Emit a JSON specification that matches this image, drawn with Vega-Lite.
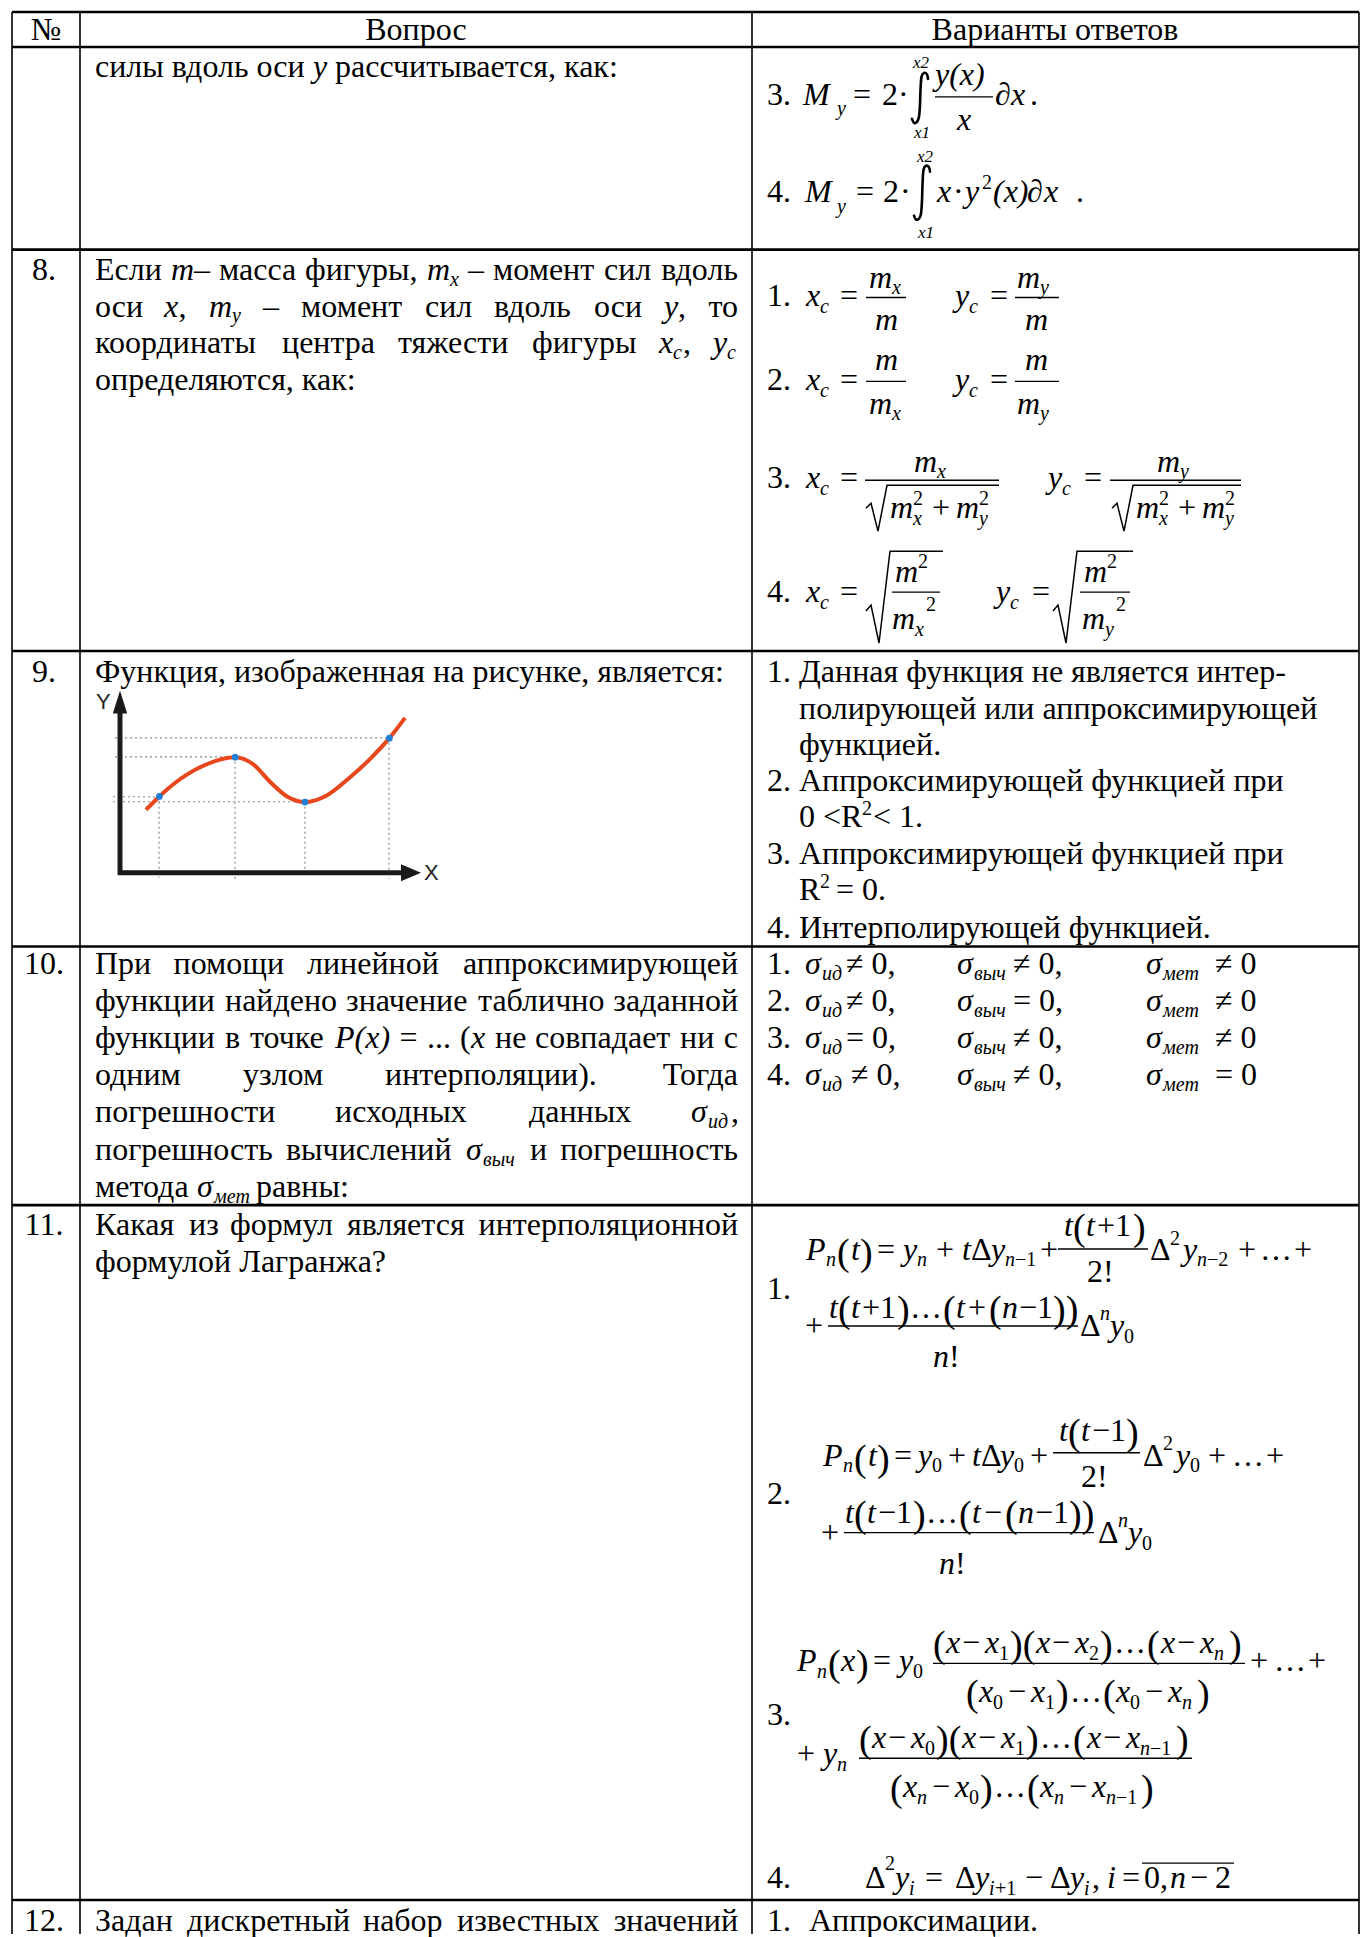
{
"$schema": "https://vega.github.io/schema/vega-lite/v6.json",
"width": 1363, "height": 1937, "padding": 0,
"autosize": {"type": "fit", "contains": "padding"},
"background": "white",
"config": {"view": {"stroke": null}},
"datasets": {
"L": [
{"x":12,"y":12,"x2":1359,"y2":12,"g":"h"},
{"x":12,"y":47,"x2":1359,"y2":47,"g":"h"},
{"x":12,"y":250,"x2":1359,"y2":250,"g":"h"},
{"x":12,"y":652,"x2":1359,"y2":652,"g":"h"},
{"x":12,"y":948,"x2":1359,"y2":948,"g":"h"},
{"x":12,"y":1207,"x2":1359,"y2":1207,"g":"h"},
{"x":12,"y":1903,"x2":1359,"y2":1903,"g":"h"},
{"x":12,"y":12,"x2":12,"y2":1937,"g":"v"},
{"x":80,"y":12,"x2":80,"y2":1937,"g":"v"},
{"x":752,"y":12,"x2":752,"y2":1937,"g":"v"},
{"x":1359,"y":12,"x2":1359,"y2":1937,"g":"v"},
{"x":935,"y":97,"x2":993,"y2":97,"g":"bar"},
{"x":866,"y":298,"x2":906,"y2":298,"g":"bar"},
{"x":1015,"y":298,"x2":1059,"y2":298,"g":"bar"},
{"x":866,"y":382,"x2":906,"y2":382,"g":"bar"},
{"x":1015,"y":382,"x2":1059,"y2":382,"g":"bar"},
{"x":865,"y":481,"x2":999,"y2":481,"g":"bar"},
{"x":1110,"y":481,"x2":1241,"y2":481,"g":"bar"},
{"x":892,"y":593,"x2":940,"y2":593,"g":"bar"},
{"x":1080,"y":593,"x2":1130,"y2":593,"g":"bar"},
{"x":1058,"y":1251,"x2":1148,"y2":1251,"g":"bar"},
{"x":828,"y":1328,"x2":1078,"y2":1328,"g":"bar"},
{"x":1053,"y":1455,"x2":1140,"y2":1455,"g":"bar"},
{"x":844,"y":1535,"x2":1094,"y2":1535,"g":"bar"},
{"x":933,"y":1666,"x2":1245,"y2":1666,"g":"bar"},
{"x":859,"y":1761,"x2":1192,"y2":1761,"g":"bar"},
{"x":1142,"y":1866,"x2":1234,"y2":1866,"g":"bar"},
{"x":115,"y":739,"x2":389,"y2":739,"g":"dot"},
{"x":115,"y":758,"x2":235,"y2":758,"g":"dot"},
{"x":113,"y":798,"x2":159,"y2":798,"g":"dot"},
{"x":113,"y":803,"x2":305,"y2":803,"g":"dot"},
{"x":159,"y":798,"x2":159,"y2":879,"g":"dot"},
{"x":235,"y":758,"x2":235,"y2":881,"g":"dot"},
{"x":305,"y":803,"x2":305,"y2":877,"g":"dot"},
{"x":389,"y":739,"x2":389,"y2":880,"g":"dot"},
{"x":120,"y":711,"x2":120,"y2":876,"g":"axis"},
{"x":118,"y":874,"x2":404,"y2":874,"g":"axis"}
],
"P": [
{"id":"A","o":1,"x":866,"y":509},{"id":"A","o":2,"x":871,"y":504},{"id":"A","o":3,"x":878,"y":532},{"id":"A","o":4,"x":887,"y":486},{"id":"A","o":5,"x":999,"y":486},
{"id":"B","o":1,"x":1112,"y":509},{"id":"B","o":2,"x":1117,"y":504},{"id":"B","o":3,"x":1124,"y":532},{"id":"B","o":4,"x":1133,"y":486},{"id":"B","o":5,"x":1241,"y":486},
{"id":"C","o":1,"x":866,"y":612},{"id":"C","o":2,"x":871,"y":606},{"id":"C","o":3,"x":879,"y":644},{"id":"C","o":4,"x":890,"y":552},{"id":"C","o":5,"x":943,"y":552},
{"id":"D","o":1,"x":1053,"y":612},{"id":"D","o":2,"x":1058,"y":606},{"id":"D","o":3,"x":1066,"y":644},{"id":"D","o":4,"x":1077,"y":552},{"id":"D","o":5,"x":1133,"y":552}
],
"G": [
{"id":"I3","o":1,"x":928,"y":79},{"id":"I3","o":2,"x":927,"y":74.5},{"id":"I3","o":3,"x":924,"y":73},{"id":"I3","o":4,"x":921.5,"y":77},{"id":"I3","o":5,"x":920.5,"y":90},{"id":"I3","o":6,"x":920,"y":105},{"id":"I3","o":7,"x":919,"y":117},{"id":"I3","o":8,"x":917,"y":122},{"id":"I3","o":9,"x":914,"y":123},{"id":"I3","o":10,"x":912,"y":119},
{"id":"I4","o":1,"x":930,"y":172},{"id":"I4","o":2,"x":929,"y":167.5},{"id":"I4","o":3,"x":926,"y":166},{"id":"I4","o":4,"x":923.5,"y":170},{"id":"I4","o":5,"x":922.5,"y":185},{"id":"I4","o":6,"x":922,"y":201},{"id":"I4","o":7,"x":921,"y":214},{"id":"I4","o":8,"x":919,"y":219},{"id":"I4","o":9,"x":916,"y":220},{"id":"I4","o":10,"x":914,"y":216}
],
"C": [
{"x":146,"y":811},{"x":159.4,"y":797.7},{"x":174,"y":785},{"x":200,"y":768.5},{"x":235.2,"y":758.3},{"x":252.6,"y":765},{"x":270,"y":783},{"x":287.5,"y":798},{"x":304.9,"y":803.3},{"x":326.7,"y":796.7},{"x":348.4,"y":780},{"x":370.2,"y":760},{"x":389.4,"y":739.3},{"x":405,"y":719}
],
"D": [
{"x":159.4,"y":797.7,"g":"pt"},{"x":235.2,"y":758.3,"g":"pt"},{"x":304.9,"y":803.3,"g":"pt"},{"x":389.4,"y":739.3,"g":"pt"},
{"x":120,"y":703,"g":"up"},{"x":411,"y":874,"g":"rt"}
],
"T": [
{"t":"№","x":46,"y":40,"m":"c","z":"n"},
{"t":"Вопрос","x":416,"y":40,"m":"c","z":"n"},
{"t":"Варианты ответов","x":1055,"y":40,"m":"c","z":"n"},
{"t":"силы вдоль оси","x":95,"y":77,"m":"r","z":"n"},
{"t":"y","x":313,"y":77,"m":"i","z":"n"},
{"t":"рассчитывается, как:","x":335,"y":77,"m":"r","z":"n"},
{"t":"3.","x":767,"y":105,"m":"r","z":"n"},
{"t":"M","x":803,"y":105,"m":"i","z":"n"},
{"t":"y","x":837,"y":115,"m":"i","z":"b"},
{"t":"=","x":853,"y":105,"m":"r","z":"n"},
{"t":"2","x":882,"y":105,"m":"r","z":"n"},
{"t":"·","x":898,"y":105,"m":"r","z":"n"},
{"t":"x2","x":913,"y":68,"m":"i","z":"l"},
{"t":"x1","x":914,"y":138,"m":"i","z":"l"},
{"t":"y(x)","x":935,"y":85,"m":"i","z":"n"},
{"t":"x","x":957,"y":130,"m":"i","z":"n"},
{"t":"∂","x":995,"y":105,"m":"r","z":"n"},
{"t":"x","x":1011,"y":105,"m":"i","z":"n"},
{"t":".","x":1030,"y":105,"m":"r","z":"n"},
{"t":"4.","x":767,"y":202,"m":"r","z":"n"},
{"t":"M","x":805,"y":202,"m":"i","z":"n"},
{"t":"y","x":837,"y":213,"m":"i","z":"b"},
{"t":"=","x":856,"y":202,"m":"r","z":"n"},
{"t":"2","x":883,"y":202,"m":"r","z":"n"},
{"t":"·","x":900,"y":202,"m":"r","z":"n"},
{"t":"x2","x":917,"y":162,"m":"i","z":"l"},
{"t":"x1","x":918,"y":238,"m":"i","z":"l"},
{"t":"x","x":937,"y":202,"m":"i","z":"n"},
{"t":"·","x":953,"y":202,"m":"r","z":"n"},
{"t":"y","x":965,"y":202,"m":"i","z":"n"},
{"t":"2","x":982,"y":189,"m":"r","z":"b"},
{"t":"(x)","x":993,"y":202,"m":"i","z":"n"},
{"t":"∂","x":1027,"y":202,"m":"r","z":"n"},
{"t":"x","x":1044,"y":202,"m":"i","z":"n"},
{"t":".","x":1076,"y":202,"m":"r","z":"n"},

{"t":"8.","x":44,"y":280,"m":"c","z":"n"},
{"t":"Если","x":95,"y":280,"m":"r","z":"n"},
{"t":"m","x":171,"y":280,"m":"i","z":"n"},
{"t":"–","x":194,"y":280,"m":"r","z":"n"},
{"t":"масса","x":219,"y":280,"m":"r","z":"n"},
{"t":"фигуры,","x":305,"y":280,"m":"r","z":"n"},
{"t":"m","x":427,"y":280,"m":"i","z":"n"},
{"t":"x","x":450,"y":286,"m":"i","z":"b"},
{"t":"–","x":468,"y":280,"m":"r","z":"n"},
{"t":"момент","x":493,"y":280,"m":"r","z":"n"},
{"t":"сил","x":604,"y":280,"m":"r","z":"n"},
{"t":"вдоль","x":738,"y":280,"m":"rr","z":"n"},
{"t":"оси","x":95,"y":317,"m":"r","z":"n"},
{"t":"x","x":164,"y":317,"m":"i","z":"n"},
{"t":",","x":178.6,"y":317,"m":"r","z":"n"},
{"t":"m","x":209,"y":317,"m":"i","z":"n"},
{"t":"y","x":232,"y":323,"m":"i","z":"b"},
{"t":"–","x":263,"y":317,"m":"r","z":"n"},
{"t":"момент","x":301,"y":317,"m":"r","z":"n"},
{"t":"сил","x":425,"y":317,"m":"r","z":"n"},
{"t":"вдоль","x":494,"y":317,"m":"r","z":"n"},
{"t":"оси","x":594,"y":317,"m":"r","z":"n"},
{"t":"y","x":664,"y":317,"m":"i","z":"n"},
{"t":",","x":678,"y":317,"m":"r","z":"n"},
{"t":"то","x":738,"y":317,"m":"rr","z":"n"},
{"t":"координаты","x":95,"y":354,"m":"r","z":"n"},
{"t":"центра","x":282,"y":354,"m":"r","z":"n"},
{"t":"тяжести","x":398,"y":354,"m":"r","z":"n"},
{"t":"фигуры","x":532,"y":354,"m":"r","z":"n"},
{"t":"x","x":659,"y":354,"m":"i","z":"n"},
{"t":"c","x":673,"y":360,"m":"i","z":"b"},
{"t":",","x":683,"y":354,"m":"r","z":"n"},
{"t":"y","x":713,"y":354,"m":"i","z":"n"},
{"t":"c","x":727,"y":360,"m":"i","z":"b"},
{"t":"определяются, как:","x":95,"y":391,"m":"r","z":"n"},

{"t":"1.","x":767,"y":306,"m":"r","z":"n"},
{"t":"x","x":806,"y":306,"m":"i","z":"n"},
{"t":"c","x":820,"y":313,"m":"i","z":"b"},
{"t":"=","x":840,"y":306,"m":"r","z":"n"},
{"t":"m","x":869,"y":288,"m":"i","z":"n"},
{"t":"x","x":892,"y":294,"m":"i","z":"b"},
{"t":"m","x":875,"y":331,"m":"i","z":"n"},
{"t":"y","x":955,"y":306,"m":"i","z":"n"},
{"t":"c","x":969,"y":313,"m":"i","z":"b"},
{"t":"=","x":990,"y":306,"m":"r","z":"n"},
{"t":"m","x":1017,"y":288,"m":"i","z":"n"},
{"t":"y","x":1040,"y":294,"m":"i","z":"b"},
{"t":"m","x":1025,"y":331,"m":"i","z":"n"},
{"t":"2.","x":767,"y":391,"m":"r","z":"n"},
{"t":"x","x":806,"y":391,"m":"i","z":"n"},
{"t":"c","x":820,"y":398,"m":"i","z":"b"},
{"t":"=","x":840,"y":391,"m":"r","z":"n"},
{"t":"m","x":875,"y":371,"m":"i","z":"n"},
{"t":"m","x":869,"y":415,"m":"i","z":"n"},
{"t":"x","x":892,"y":421,"m":"i","z":"b"},
{"t":"y","x":955,"y":391,"m":"i","z":"n"},
{"t":"c","x":969,"y":398,"m":"i","z":"b"},
{"t":"=","x":990,"y":391,"m":"r","z":"n"},
{"t":"m","x":1025,"y":371,"m":"i","z":"n"},
{"t":"m","x":1017,"y":415,"m":"i","z":"n"},
{"t":"y","x":1040,"y":421,"m":"i","z":"b"},
{"t":"3.","x":767,"y":489,"m":"r","z":"n"},
{"t":"x","x":806,"y":489,"m":"i","z":"n"},
{"t":"c","x":820,"y":496,"m":"i","z":"b"},
{"t":"=","x":840,"y":489,"m":"r","z":"n"},
{"t":"m","x":914,"y":473,"m":"i","z":"n"},
{"t":"x","x":937,"y":479,"m":"i","z":"b"},
{"t":"m","x":890,"y":519,"m":"i","z":"n"},
{"t":"2","x":913,"y":506,"m":"r","z":"b"},
{"t":"x","x":913,"y":526,"m":"i","z":"b"},
{"t":"+","x":932,"y":519,"m":"r","z":"n"},
{"t":"m","x":956,"y":519,"m":"i","z":"n"},
{"t":"2","x":979,"y":506,"m":"r","z":"b"},
{"t":"y","x":979,"y":526,"m":"i","z":"b"},
{"t":"y","x":1048,"y":489,"m":"i","z":"n"},
{"t":"c","x":1062,"y":496,"m":"i","z":"b"},
{"t":"=","x":1084,"y":489,"m":"r","z":"n"},
{"t":"m","x":1157,"y":473,"m":"i","z":"n"},
{"t":"y","x":1180,"y":479,"m":"i","z":"b"},
{"t":"m","x":1136,"y":519,"m":"i","z":"n"},
{"t":"2","x":1159,"y":506,"m":"r","z":"b"},
{"t":"x","x":1159,"y":526,"m":"i","z":"b"},
{"t":"+","x":1178,"y":519,"m":"r","z":"n"},
{"t":"m","x":1202,"y":519,"m":"i","z":"n"},
{"t":"2","x":1225,"y":506,"m":"r","z":"b"},
{"t":"y","x":1225,"y":526,"m":"i","z":"b"},
{"t":"4.","x":767,"y":603,"m":"r","z":"n"},
{"t":"x","x":806,"y":603,"m":"i","z":"n"},
{"t":"c","x":820,"y":610,"m":"i","z":"b"},
{"t":"=","x":840,"y":603,"m":"r","z":"n"},
{"t":"m","x":895,"y":583,"m":"i","z":"n"},
{"t":"2","x":918,"y":569,"m":"r","z":"b"},
{"t":"m","x":892,"y":630,"m":"i","z":"n"},
{"t":"x","x":915,"y":637,"m":"i","z":"b"},
{"t":"2","x":926,"y":612,"m":"r","z":"b"},
{"t":"y","x":996,"y":603,"m":"i","z":"n"},
{"t":"c","x":1010,"y":610,"m":"i","z":"b"},
{"t":"=","x":1032,"y":603,"m":"r","z":"n"},
{"t":"m","x":1084,"y":583,"m":"i","z":"n"},
{"t":"2","x":1107,"y":569,"m":"r","z":"b"},
{"t":"m","x":1082,"y":630,"m":"i","z":"n"},
{"t":"y","x":1105,"y":637,"m":"i","z":"b"},
{"t":"2","x":1116,"y":612,"m":"r","z":"b"},

{"t":"9.","x":44,"y":683,"m":"c","z":"n"},
{"t":"Функция, изображенная на рисунке, является:","x":95,"y":683,"m":"r","z":"n"},
{"t":"Y","x":96,"y":710,"m":"s","z":"ax"},
{"t":"X","x":424,"y":881,"m":"s","z":"ax"},
{"t":"1. Данная функция не является интер-","x":767,"y":683,"m":"r","z":"n"},
{"t":"полирующей или аппроксимирующей","x":799,"y":720,"m":"r","z":"n"},
{"t":"функцией.","x":799,"y":756,"m":"r","z":"n"},
{"t":"2. Аппроксимирующей функцией при","x":767,"y":792,"m":"r","z":"n"},
{"t":"0 <R","x":799,"y":828,"m":"r","z":"n"},
{"t":"2","x":862,"y":816,"m":"r","z":"b"},
{"t":"< 1.","x":873,"y":828,"m":"r","z":"n"},
{"t":"3. Аппроксимирующей функцией при","x":767,"y":865,"m":"r","z":"n"},
{"t":"R","x":799,"y":901,"m":"r","z":"n"},
{"t":"2","x":820,"y":889,"m":"r","z":"b"},
{"t":"= 0.","x":836,"y":901,"m":"r","z":"n"},
{"t":"4. Интерполирующей функцией.","x":767,"y":939,"m":"r","z":"n"},

{"t":"10.","x":44,"y":976,"m":"c","z":"n"},
{"t":"При","x":95,"y":976,"m":"r","z":"n"},
{"t":"помощи","x":173.5,"y":976,"m":"r","z":"n"},
{"t":"линейной","x":307,"y":976,"m":"r","z":"n"},
{"t":"аппроксимирующей","x":738,"y":976,"m":"rr","z":"n"},
{"t":"функции","x":95,"y":1013,"m":"r","z":"n"},
{"t":"найдено","x":225,"y":1013,"m":"r","z":"n"},
{"t":"значение","x":346,"y":1013,"m":"r","z":"n"},
{"t":"таблично","x":478,"y":1013,"m":"r","z":"n"},
{"t":"заданной","x":738,"y":1013,"m":"rr","z":"n"},
{"t":"функции","x":95,"y":1050,"m":"r","z":"n"},
{"t":"в","x":225,"y":1050,"m":"r","z":"n"},
{"t":"точке","x":250,"y":1050,"m":"r","z":"n"},
{"t":"P(x)","x":335,"y":1050,"m":"i","z":"n"},
{"t":"=","x":399.5,"y":1050,"m":"r","z":"n"},
{"t":"...","x":427,"y":1050,"m":"r","z":"n"},
{"t":"(","x":460,"y":1050,"m":"r","z":"n"},
{"t":"x","x":471,"y":1050,"m":"i","z":"n"},
{"t":"не","x":495,"y":1050,"m":"r","z":"n"},
{"t":"совпадает","x":535,"y":1050,"m":"r","z":"n"},
{"t":"ни","x":680,"y":1050,"m":"r","z":"n"},
{"t":"с","x":738,"y":1050,"m":"rr","z":"n"},
{"t":"одним","x":95,"y":1087,"m":"r","z":"n"},
{"t":"узлом","x":243,"y":1087,"m":"r","z":"n"},
{"t":"интерполяции).","x":385,"y":1087,"m":"r","z":"n"},
{"t":"Тогда","x":738,"y":1087,"m":"rr","z":"n"},
{"t":"погрешности","x":95,"y":1124,"m":"r","z":"n"},
{"t":"исходных","x":335,"y":1124,"m":"r","z":"n"},
{"t":"данных","x":529,"y":1124,"m":"r","z":"n"},
{"t":"σ","x":691,"y":1124,"m":"i","z":"n"},
{"t":"ид","x":708,"y":1130,"m":"i","z":"b"},
{"t":",","x":731,"y":1124,"m":"r","z":"n"},
{"t":"погрешность","x":95,"y":1162,"m":"r","z":"n"},
{"t":"вычислений","x":286,"y":1162,"m":"r","z":"n"},
{"t":"σ","x":466,"y":1162,"m":"i","z":"n"},
{"t":"выч","x":483,"y":1168,"m":"i","z":"b"},
{"t":"и","x":530,"y":1162,"m":"r","z":"n"},
{"t":"погрешность","x":738,"y":1162,"m":"rr","z":"n"},
{"t":"метода","x":95,"y":1199,"m":"r","z":"n"},
{"t":"σ","x":197,"y":1199,"m":"i","z":"n"},
{"t":"мет","x":214,"y":1205,"m":"i","z":"b"},
{"t":"равны:","x":256,"y":1199,"m":"r","z":"n"},

{"t":"1.","x":767,"y":976,"m":"r","z":"n"},
{"t":"σ","x":805,"y":976,"m":"i","z":"n"},
{"t":"ид","x":822,"y":982,"m":"i","z":"b"},
{"t":"≠ 0,","x":846,"y":976,"m":"r","z":"n"},
{"t":"σ","x":957,"y":976,"m":"i","z":"n"},
{"t":"выч","x":974,"y":982,"m":"i","z":"b"},
{"t":"≠ 0,","x":1013,"y":976,"m":"r","z":"n"},
{"t":"σ","x":1146,"y":976,"m":"i","z":"n"},
{"t":"мет","x":1163,"y":982,"m":"i","z":"b"},
{"t":"≠ 0","x":1215,"y":976,"m":"r","z":"n"},
{"t":"2.","x":767,"y":1013,"m":"r","z":"n"},
{"t":"σ","x":805,"y":1013,"m":"i","z":"n"},
{"t":"ид","x":822,"y":1019,"m":"i","z":"b"},
{"t":"≠ 0,","x":846,"y":1013,"m":"r","z":"n"},
{"t":"σ","x":957,"y":1013,"m":"i","z":"n"},
{"t":"выч","x":974,"y":1019,"m":"i","z":"b"},
{"t":"= 0,","x":1013,"y":1013,"m":"r","z":"n"},
{"t":"σ","x":1146,"y":1013,"m":"i","z":"n"},
{"t":"мет","x":1163,"y":1019,"m":"i","z":"b"},
{"t":"≠ 0","x":1215,"y":1013,"m":"r","z":"n"},
{"t":"3.","x":767,"y":1050,"m":"r","z":"n"},
{"t":"σ","x":805,"y":1050,"m":"i","z":"n"},
{"t":"ид","x":822,"y":1056,"m":"i","z":"b"},
{"t":"= 0,","x":846,"y":1050,"m":"r","z":"n"},
{"t":"σ","x":957,"y":1050,"m":"i","z":"n"},
{"t":"выч","x":974,"y":1056,"m":"i","z":"b"},
{"t":"≠ 0,","x":1013,"y":1050,"m":"r","z":"n"},
{"t":"σ","x":1146,"y":1050,"m":"i","z":"n"},
{"t":"мет","x":1163,"y":1056,"m":"i","z":"b"},
{"t":"≠ 0","x":1215,"y":1050,"m":"r","z":"n"},
{"t":"4.","x":767,"y":1087,"m":"r","z":"n"},
{"t":"σ","x":805,"y":1087,"m":"i","z":"n"},
{"t":"ид","x":822,"y":1093,"m":"i","z":"b"},
{"t":"≠ 0,","x":851,"y":1087,"m":"r","z":"n"},
{"t":"σ","x":957,"y":1087,"m":"i","z":"n"},
{"t":"выч","x":974,"y":1093,"m":"i","z":"b"},
{"t":"≠ 0,","x":1013,"y":1087,"m":"r","z":"n"},
{"t":"σ","x":1146,"y":1087,"m":"i","z":"n"},
{"t":"мет","x":1163,"y":1093,"m":"i","z":"b"},
{"t":"= 0","x":1215,"y":1087,"m":"r","z":"n"},

{"t":"11.","x":44,"y":1237,"m":"c","z":"n"},
{"t":"Какая","x":95,"y":1237,"m":"r","z":"n"},
{"t":"из","x":189,"y":1237,"m":"r","z":"n"},
{"t":"формул","x":230,"y":1237,"m":"r","z":"n"},
{"t":"является","x":347,"y":1237,"m":"r","z":"n"},
{"t":"интерполяционной","x":738,"y":1237,"m":"rr","z":"n"},
{"t":"формулой Лагранжа?","x":95,"y":1274,"m":"r","z":"n"},

{"t":"1.","x":767,"y":1301,"m":"r","z":"n"},
{"t":"P","x":806,"y":1262,"m":"i","z":"n"},
{"t":"n","x":826,"y":1268,"m":"i","z":"b"},
{"t":"(","x":837,"y":1267,"m":"r","z":"p"},
{"t":"t","x":851,"y":1262,"m":"i","z":"n"},
{"t":")","x":860,"y":1267,"m":"r","z":"p"},
{"t":"=","x":877,"y":1262,"m":"r","z":"n"},
{"t":"y","x":903,"y":1262,"m":"i","z":"n"},
{"t":"n","x":917,"y":1268,"m":"i","z":"b"},
{"t":"+","x":936,"y":1262,"m":"r","z":"n"},
{"t":"t","x":962,"y":1262,"m":"i","z":"n"},
{"t":"Δ","x":971,"y":1262,"m":"r","z":"n"},
{"t":"y","x":991,"y":1262,"m":"i","z":"n"},
{"t":"n","x":1005,"y":1268,"m":"i","z":"b"},
{"t":"−1","x":1015,"y":1268,"m":"r","z":"b"},
{"t":"+","x":1040,"y":1262,"m":"r","z":"n"},
{"t":"t","x":1064,"y":1238,"m":"i","z":"n"},
{"t":"(","x":1073,"y":1242,"m":"r","z":"p"},
{"t":"t","x":1086,"y":1238,"m":"i","z":"n"},
{"t":"+1","x":1097,"y":1238,"m":"r","z":"n"},
{"t":")","x":1133,"y":1242,"m":"r","z":"p"},
{"t":"2!","x":1087,"y":1284,"m":"r","z":"n"},
{"t":"Δ","x":1150,"y":1262,"m":"r","z":"n"},
{"t":"2","x":1170,"y":1247,"m":"r","z":"b"},
{"t":"y","x":1183,"y":1262,"m":"i","z":"n"},
{"t":"n","x":1197,"y":1268,"m":"i","z":"b"},
{"t":"−2","x":1207,"y":1268,"m":"r","z":"b"},
{"t":"+","x":1238,"y":1262,"m":"r","z":"n"},
{"t":"…","x":1260,"y":1262,"m":"r","z":"n"},
{"t":"+","x":1294,"y":1262,"m":"r","z":"n"},
{"t":"+","x":805,"y":1338,"m":"r","z":"n"},
{"t":"t","x":829,"y":1320,"m":"i","z":"n"},
{"t":"(","x":838,"y":1324,"m":"r","z":"p"},
{"t":"t","x":851,"y":1320,"m":"i","z":"n"},
{"t":"+1","x":862,"y":1320,"m":"r","z":"n"},
{"t":")","x":897,"y":1324,"m":"r","z":"p"},
{"t":"…","x":910,"y":1320,"m":"r","z":"n"},
{"t":"(","x":943,"y":1324,"m":"r","z":"p"},
{"t":"t","x":956,"y":1320,"m":"i","z":"n"},
{"t":"+","x":968,"y":1320,"m":"r","z":"n"},
{"t":"(","x":989,"y":1324,"m":"r","z":"p"},
{"t":"n","x":1002,"y":1320,"m":"i","z":"n"},
{"t":"−1","x":1019,"y":1320,"m":"r","z":"n"},
{"t":"))","x":1053,"y":1324,"m":"r","z":"p"},
{"t":"n","x":933,"y":1369,"m":"i","z":"n"},
{"t":"!","x":949,"y":1369,"m":"r","z":"n"},
{"t":"Δ","x":1080,"y":1338,"m":"r","z":"n"},
{"t":"n","x":1100,"y":1322,"m":"i","z":"b"},
{"t":"y","x":1110,"y":1338,"m":"i","z":"n"},
{"t":"0","x":1124,"y":1345,"m":"r","z":"b"},

{"t":"2.","x":767,"y":1506,"m":"r","z":"n"},
{"t":"P","x":823,"y":1468,"m":"i","z":"n"},
{"t":"n","x":843,"y":1474,"m":"i","z":"b"},
{"t":"(","x":854,"y":1473,"m":"r","z":"p"},
{"t":"t","x":868,"y":1468,"m":"i","z":"n"},
{"t":")","x":877,"y":1473,"m":"r","z":"p"},
{"t":"=","x":894,"y":1468,"m":"r","z":"n"},
{"t":"y","x":918,"y":1468,"m":"i","z":"n"},
{"t":"0","x":932,"y":1474,"m":"r","z":"b"},
{"t":"+","x":948,"y":1468,"m":"r","z":"n"},
{"t":"t","x":972,"y":1468,"m":"i","z":"n"},
{"t":"Δ","x":981,"y":1468,"m":"r","z":"n"},
{"t":"y","x":1000,"y":1468,"m":"i","z":"n"},
{"t":"0","x":1014,"y":1474,"m":"r","z":"b"},
{"t":"+","x":1030,"y":1468,"m":"r","z":"n"},
{"t":"t","x":1059,"y":1443,"m":"i","z":"n"},
{"t":"(","x":1068,"y":1447,"m":"r","z":"p"},
{"t":"t","x":1081,"y":1443,"m":"i","z":"n"},
{"t":"−1","x":1092,"y":1443,"m":"r","z":"n"},
{"t":")","x":1126,"y":1447,"m":"r","z":"p"},
{"t":"2!","x":1081,"y":1489,"m":"r","z":"n"},
{"t":"Δ","x":1143,"y":1468,"m":"r","z":"n"},
{"t":"2","x":1163,"y":1452,"m":"r","z":"b"},
{"t":"y","x":1176,"y":1468,"m":"i","z":"n"},
{"t":"0","x":1190,"y":1474,"m":"r","z":"b"},
{"t":"+","x":1208,"y":1468,"m":"r","z":"n"},
{"t":"…","x":1232,"y":1468,"m":"r","z":"n"},
{"t":"+","x":1266,"y":1468,"m":"r","z":"n"},
{"t":"+","x":821,"y":1545,"m":"r","z":"n"},
{"t":"t","x":845,"y":1525,"m":"i","z":"n"},
{"t":"(","x":854,"y":1529,"m":"r","z":"p"},
{"t":"t","x":867,"y":1525,"m":"i","z":"n"},
{"t":"−1","x":878,"y":1525,"m":"r","z":"n"},
{"t":")","x":913,"y":1529,"m":"r","z":"p"},
{"t":"…","x":926,"y":1525,"m":"r","z":"n"},
{"t":"(","x":959,"y":1529,"m":"r","z":"p"},
{"t":"t","x":972,"y":1525,"m":"i","z":"n"},
{"t":"−","x":984,"y":1525,"m":"r","z":"n"},
{"t":"(","x":1005,"y":1529,"m":"r","z":"p"},
{"t":"n","x":1018,"y":1525,"m":"i","z":"n"},
{"t":"−1","x":1035,"y":1525,"m":"r","z":"n"},
{"t":"))","x":1069,"y":1529,"m":"r","z":"p"},
{"t":"n","x":939,"y":1576,"m":"i","z":"n"},
{"t":"!","x":955,"y":1576,"m":"r","z":"n"},
{"t":"Δ","x":1098,"y":1545,"m":"r","z":"n"},
{"t":"n","x":1118,"y":1529,"m":"i","z":"b"},
{"t":"y","x":1128,"y":1545,"m":"i","z":"n"},
{"t":"0","x":1142,"y":1552,"m":"r","z":"b"},

{"t":"3.","x":767,"y":1728,"m":"r","z":"n"},
{"t":"P","x":797,"y":1674,"m":"i","z":"n"},
{"t":"n","x":817,"y":1681,"m":"i","z":"b"},
{"t":"(","x":828,"y":1679,"m":"r","z":"p"},
{"t":"x","x":841,"y":1674,"m":"i","z":"n"},
{"t":")","x":856,"y":1679,"m":"r","z":"p"},
{"t":"=","x":873,"y":1674,"m":"r","z":"n"},
{"t":"y","x":899,"y":1674,"m":"i","z":"n"},
{"t":"0","x":913,"y":1681,"m":"r","z":"b"},
{"t":"(","x":933,"y":1660,"m":"r","z":"p"},
{"t":"x","x":946,"y":1656,"m":"i","z":"n"},
{"t":"−","x":962,"y":1656,"m":"r","z":"n"},
{"t":"x","x":985,"y":1656,"m":"i","z":"n"},
{"t":"1","x":999,"y":1663,"m":"r","z":"b"},
{"t":")(","x":1010,"y":1660,"m":"r","z":"p"},
{"t":"x","x":1036,"y":1656,"m":"i","z":"n"},
{"t":"−","x":1052,"y":1656,"m":"r","z":"n"},
{"t":"x","x":1075,"y":1656,"m":"i","z":"n"},
{"t":"2","x":1089,"y":1663,"m":"r","z":"b"},
{"t":")","x":1100,"y":1660,"m":"r","z":"p"},
{"t":"…","x":1114,"y":1656,"m":"r","z":"n"},
{"t":"(","x":1147,"y":1660,"m":"r","z":"p"},
{"t":"x","x":1161,"y":1656,"m":"i","z":"n"},
{"t":"−","x":1177,"y":1656,"m":"r","z":"n"},
{"t":"x","x":1200,"y":1656,"m":"i","z":"n"},
{"t":"n","x":1214,"y":1663,"m":"i","z":"b"},
{"t":")","x":1229,"y":1660,"m":"r","z":"p"},
{"t":"(","x":966,"y":1709,"m":"r","z":"p"},
{"t":"x","x":979,"y":1705,"m":"i","z":"n"},
{"t":"0","x":993,"y":1712,"m":"r","z":"b"},
{"t":"−","x":1008,"y":1705,"m":"r","z":"n"},
{"t":"x","x":1031,"y":1705,"m":"i","z":"n"},
{"t":"1","x":1045,"y":1712,"m":"r","z":"b"},
{"t":")","x":1056,"y":1709,"m":"r","z":"p"},
{"t":"…","x":1070,"y":1705,"m":"r","z":"n"},
{"t":"(","x":1103,"y":1709,"m":"r","z":"p"},
{"t":"x","x":1116,"y":1705,"m":"i","z":"n"},
{"t":"0","x":1130,"y":1712,"m":"r","z":"b"},
{"t":"−","x":1145,"y":1705,"m":"r","z":"n"},
{"t":"x","x":1168,"y":1705,"m":"i","z":"n"},
{"t":"n","x":1182,"y":1712,"m":"i","z":"b"},
{"t":")","x":1197,"y":1709,"m":"r","z":"p"},
{"t":"+","x":1250,"y":1674,"m":"r","z":"n"},
{"t":"…","x":1274,"y":1674,"m":"r","z":"n"},
{"t":"+","x":1308,"y":1674,"m":"r","z":"n"},
{"t":"+","x":797,"y":1767,"m":"r","z":"n"},
{"t":"y","x":823,"y":1767,"m":"i","z":"n"},
{"t":"n","x":837,"y":1774,"m":"i","z":"b"},
{"t":"(","x":859,"y":1755,"m":"r","z":"p"},
{"t":"x","x":872,"y":1751,"m":"i","z":"n"},
{"t":"−","x":888,"y":1751,"m":"r","z":"n"},
{"t":"x","x":911,"y":1751,"m":"i","z":"n"},
{"t":"0","x":925,"y":1758,"m":"r","z":"b"},
{"t":")(","x":936,"y":1755,"m":"r","z":"p"},
{"t":"x","x":962,"y":1751,"m":"i","z":"n"},
{"t":"−","x":978,"y":1751,"m":"r","z":"n"},
{"t":"x","x":1001,"y":1751,"m":"i","z":"n"},
{"t":"1","x":1015,"y":1758,"m":"r","z":"b"},
{"t":")","x":1026,"y":1755,"m":"r","z":"p"},
{"t":"…","x":1040,"y":1751,"m":"r","z":"n"},
{"t":"(","x":1073,"y":1755,"m":"r","z":"p"},
{"t":"x","x":1087,"y":1751,"m":"i","z":"n"},
{"t":"−","x":1103,"y":1751,"m":"r","z":"n"},
{"t":"x","x":1126,"y":1751,"m":"i","z":"n"},
{"t":"n","x":1140,"y":1758,"m":"i","z":"b"},
{"t":"−1","x":1150,"y":1758,"m":"r","z":"b"},
{"t":")","x":1176,"y":1755,"m":"r","z":"p"},
{"t":"(","x":890,"y":1804,"m":"r","z":"p"},
{"t":"x","x":903,"y":1800,"m":"i","z":"n"},
{"t":"n","x":917,"y":1807,"m":"i","z":"b"},
{"t":"−","x":932,"y":1800,"m":"r","z":"n"},
{"t":"x","x":955,"y":1800,"m":"i","z":"n"},
{"t":"0","x":969,"y":1807,"m":"r","z":"b"},
{"t":")","x":980,"y":1804,"m":"r","z":"p"},
{"t":"…","x":994,"y":1800,"m":"r","z":"n"},
{"t":"(","x":1027,"y":1804,"m":"r","z":"p"},
{"t":"x","x":1040,"y":1800,"m":"i","z":"n"},
{"t":"n","x":1054,"y":1807,"m":"i","z":"b"},
{"t":"−","x":1069,"y":1800,"m":"r","z":"n"},
{"t":"x","x":1092,"y":1800,"m":"i","z":"n"},
{"t":"n","x":1106,"y":1807,"m":"i","z":"b"},
{"t":"−1","x":1116,"y":1807,"m":"r","z":"b"},
{"t":")","x":1141,"y":1804,"m":"r","z":"p"},

{"t":"4.","x":767,"y":1891,"m":"r","z":"n"},
{"t":"Δ","x":865,"y":1891,"m":"r","z":"n"},
{"t":"2","x":885,"y":1873,"m":"r","z":"b"},
{"t":"y","x":895,"y":1891,"m":"i","z":"n"},
{"t":"i","x":909,"y":1898,"m":"i","z":"b"},
{"t":"=","x":925,"y":1891,"m":"r","z":"n"},
{"t":"Δ","x":955,"y":1891,"m":"r","z":"n"},
{"t":"y","x":975,"y":1891,"m":"i","z":"n"},
{"t":"i","x":989,"y":1898,"m":"i","z":"b"},
{"t":"+1","x":995,"y":1898,"m":"r","z":"b"},
{"t":"−","x":1025,"y":1891,"m":"r","z":"n"},
{"t":"Δ","x":1050,"y":1891,"m":"r","z":"n"},
{"t":"y","x":1070,"y":1891,"m":"i","z":"n"},
{"t":"i","x":1084,"y":1898,"m":"i","z":"b"},
{"t":",","x":1092,"y":1891,"m":"r","z":"n"},
{"t":"i","x":1107,"y":1891,"m":"i","z":"n"},
{"t":"=","x":1122,"y":1891,"m":"r","z":"n"},
{"t":"0,","x":1144,"y":1891,"m":"r","z":"n"},
{"t":"n","x":1170,"y":1891,"m":"i","z":"n"},
{"t":"−","x":1190,"y":1891,"m":"r","z":"n"},
{"t":"2","x":1215,"y":1891,"m":"r","z":"n"},

{"t":"12.","x":44,"y":1934,"m":"c","z":"n"},
{"t":"Задан","x":95,"y":1934,"m":"r","z":"n"},
{"t":"дискретный","x":187,"y":1934,"m":"r","z":"n"},
{"t":"набор","x":363,"y":1934,"m":"r","z":"n"},
{"t":"известных","x":457,"y":1934,"m":"r","z":"n"},
{"t":"значений","x":738,"y":1934,"m":"rr","z":"n"},
{"t":"1.","x":767,"y":1934,"m":"r","z":"n"},
{"t":"Аппроксимации.","x":809,"y":1934,"m":"r","z":"n"}
]
},
"layer": [
{"data":{"name":"L"},"transform":[{"filter":"datum.g=='dot'"}],
 "mark":{"type":"rule","color":"#8a8a8a","strokeWidth":1.2,"strokeDash":[2,3]},
 "encoding":{"x":{"field":"x","type":"quantitative","scale":{"domain":[0,1363],"nice":false,"zero":false},"axis":null},
  "y":{"field":"y","type":"quantitative","scale":{"domain":[0,1937],"nice":false,"zero":false,"reverse":true},"axis":null},
  "x2":{"field":"x2"},"y2":{"field":"y2"}}},
{"data":{"name":"C"},
 "mark":{"type":"line","interpolate":"monotone","color":"#e8461c","strokeWidth":4},
 "encoding":{"x":{"field":"x","type":"quantitative","axis":null},"y":{"field":"y","type":"quantitative","axis":null}}},
{"data":{"name":"D"},"transform":[{"filter":"datum.g=='pt'"}],
 "mark":{"type":"point","filled":true,"color":"#1f80d6","size":45,"opacity":1},
 "encoding":{"x":{"field":"x","type":"quantitative","axis":null},"y":{"field":"y","type":"quantitative","axis":null}}},
{"data":{"name":"L"},"transform":[{"filter":"datum.g=='axis'"}],
 "mark":{"type":"rule","color":"#1a1a1a","strokeWidth":5},
 "encoding":{"x":{"field":"x","type":"quantitative","axis":null},"y":{"field":"y","type":"quantitative","axis":null},"x2":{"field":"x2"},"y2":{"field":"y2"}}},
{"data":{"name":"D"},"transform":[{"filter":"datum.g=='up'"}],
 "mark":{"type":"point","filled":true,"color":"#1a1a1a","shape":"M0,-1L0.62,1L-0.62,1Z","size":529,"opacity":1},
 "encoding":{"x":{"field":"x","type":"quantitative","axis":null},"y":{"field":"y","type":"quantitative","axis":null}}},
{"data":{"name":"D"},"transform":[{"filter":"datum.g=='rt'"}],
 "mark":{"type":"point","filled":true,"color":"#1a1a1a","shape":"M1,0L-1,0.85L-1,-0.85Z","size":400,"opacity":1},
 "encoding":{"x":{"field":"x","type":"quantitative","axis":null},"y":{"field":"y","type":"quantitative","axis":null}}},
{"data":{"name":"L"},"transform":[{"filter":"datum.g=='h'"}],
 "mark":{"type":"rule","color":"black","strokeWidth":2.6},
 "encoding":{"x":{"field":"x","type":"quantitative","axis":null},"y":{"field":"y","type":"quantitative","axis":null},"x2":{"field":"x2"},"y2":{"field":"y2"}}},
{"data":{"name":"L"},"transform":[{"filter":"datum.g=='v'"}],
 "mark":{"type":"rule","color":"black","strokeWidth":1.6},
 "encoding":{"x":{"field":"x","type":"quantitative","axis":null},"y":{"field":"y","type":"quantitative","axis":null},"x2":{"field":"x2"},"y2":{"field":"y2"}}},
{"data":{"name":"L"},"transform":[{"filter":"datum.g=='bar'"}],
 "mark":{"type":"rule","color":"black","strokeWidth":1.4},
 "encoding":{"x":{"field":"x","type":"quantitative","axis":null},"y":{"field":"y","type":"quantitative","axis":null},"x2":{"field":"x2"},"y2":{"field":"y2"}}},
{"data":{"name":"P"},
 "mark":{"type":"line","color":"black","strokeWidth":1.5,"strokeJoin":"miter"},
 "encoding":{"x":{"field":"x","type":"quantitative","axis":null},"y":{"field":"y","type":"quantitative","axis":null},"detail":{"field":"id"},"order":{"field":"o","type":"quantitative"}}},
{"data":{"name":"G"},
 "mark":{"type":"line","color":"black","strokeWidth":2.6,"interpolate":"cardinal","strokeCap":"round"},
 "encoding":{"x":{"field":"x","type":"quantitative","axis":null},"y":{"field":"y","type":"quantitative","axis":null},"detail":{"field":"id"},"order":{"field":"o","type":"quantitative"}}},
{"data":{"name":"T"},"transform":[{"filter":"datum.m=='r'"}],
 "mark":{"type":"text","font":"Liberation Serif","align":"left","baseline":"alphabetic","color":"black"},
 "encoding":{"x":{"field":"x","type":"quantitative","axis":null},"y":{"field":"y","type":"quantitative","axis":null},"text":{"field":"t"},
  "size":{"field":"z","type":"nominal","scale":{"type":"ordinal","domain":["n","b","p","I","l","ax"],"range":[32,20,38,52,17,22]},"legend":null}}},
{"data":{"name":"T"},"transform":[{"filter":"datum.m=='i'"}],
 "mark":{"type":"text","font":"Liberation Serif","fontStyle":"italic","align":"left","baseline":"alphabetic","color":"black"},
 "encoding":{"x":{"field":"x","type":"quantitative","axis":null},"y":{"field":"y","type":"quantitative","axis":null},"text":{"field":"t"},
  "size":{"field":"z","type":"nominal","scale":{"type":"ordinal","domain":["n","b","p","I","l","ax"],"range":[32,20,38,52,17,22]},"legend":null}}},
{"data":{"name":"T"},"transform":[{"filter":"datum.m=='c'"}],
 "mark":{"type":"text","font":"Liberation Serif","align":"center","baseline":"alphabetic","color":"black"},
 "encoding":{"x":{"field":"x","type":"quantitative","axis":null},"y":{"field":"y","type":"quantitative","axis":null},"text":{"field":"t"},
  "size":{"field":"z","type":"nominal","scale":{"type":"ordinal","domain":["n","b","p","I","l","ax"],"range":[32,20,38,52,17,22]},"legend":null}}},
{"data":{"name":"T"},"transform":[{"filter":"datum.m=='rr'"}],
 "mark":{"type":"text","font":"Liberation Serif","align":"right","baseline":"alphabetic","color":"black"},
 "encoding":{"x":{"field":"x","type":"quantitative","axis":null},"y":{"field":"y","type":"quantitative","axis":null},"text":{"field":"t"},
  "size":{"field":"z","type":"nominal","scale":{"type":"ordinal","domain":["n","b","p","I","l","ax"],"range":[32,20,38,52,17,22]},"legend":null}}},
{"data":{"name":"T"},"transform":[{"filter":"datum.m=='s'"}],
 "mark":{"type":"text","font":"Liberation Sans","align":"left","baseline":"alphabetic","color":"#222222"},
 "encoding":{"x":{"field":"x","type":"quantitative","axis":null},"y":{"field":"y","type":"quantitative","axis":null},"text":{"field":"t"},
  "size":{"field":"z","type":"nominal","scale":{"type":"ordinal","domain":["n","b","p","I","l","ax"],"range":[32,20,38,52,17,22]},"legend":null}}}
]
}
